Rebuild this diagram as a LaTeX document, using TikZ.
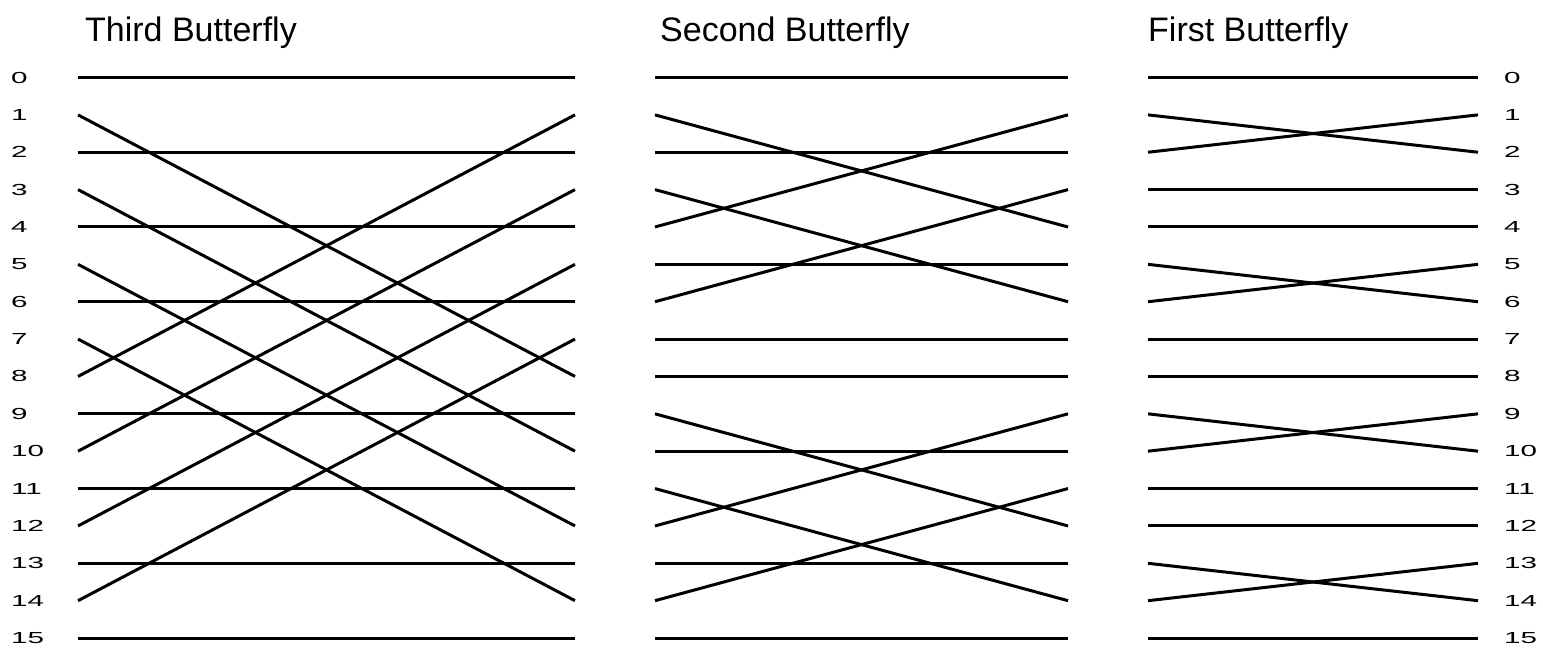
\documentclass[tikz,border=0pt]{standalone}
\usepackage{fontspec}
\setmainfont{Liberation Sans}
\usetikzlibrary{positioning}

\begin{document}
\begin{tikzpicture}[x=1pt,y=-1pt,
  wire/.style={line width=3pt},
  title/.style={font=\fontsize{34}{40}\selectfont,inner sep=0pt,anchor=base west},
  idx/.style={font=\fontsize{16}{18}\selectfont,inner sep=0pt,anchor=west}]
\useasboundingbox (0,0) rectangle (1543,648);
% Stage titles
\node[title] (third) at (85,41) {Third Butterfly};
\node[title] (second) at (660,41) {Second Butterfly};
\node[title] (first) at (1148,41) {First Butterfly};

% Row labels and wire ends
\foreach \i in {0,...,15}{
  \pgfmathsetmacro{\yy}{77.5+37.37*\i}
  \node[idx] (ll\i) at (11,\yy) {\scalebox{1.85}[1]{\i}};
  \node[idx] (rl\i) at (1504,\yy) {\scalebox{1.85}[1]{\i}};
  \coordinate (a\i) at (78,\yy);
  \coordinate (b\i) at (575,\yy);
  \coordinate (c\i) at (655,\yy);
  \coordinate (d\i) at (1068,\yy);
  \coordinate (e\i) at (1148,\yy);
  \coordinate (f\i) at (1478,\yy);
}

% Third butterfly
\foreach \p/\q in {0/0,2/2,4/4,6/6,9/9,11/11,13/13,15/15,
  1/8,8/1,3/10,10/3,5/12,12/5,7/14,14/7}
  \draw[wire] (a\p) -- (b\q);

% Second butterfly
\foreach \p/\q in {0/0,2/2,5/5,7/7,8/8,10/10,13/13,15/15,
  1/4,4/1,3/6,6/3,9/12,12/9,11/14,14/11}
  \draw[wire] (c\p) -- (d\q);

% First butterfly
\foreach \p/\q in {0/0,3/3,4/4,7/7,8/8,11/11,12/12,15/15,
  1/2,2/1,5/6,6/5,9/10,10/9,13/14,14/13}
  \draw[wire] (e\p) -- (f\q);
\end{tikzpicture}
\end{document}
